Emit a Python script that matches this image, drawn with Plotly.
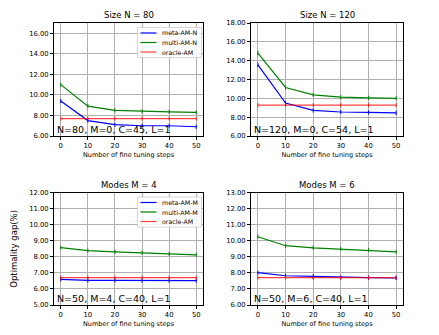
import plotly.graph_objects as go
from plotly.subplots import make_subplots

steps = [0, 10, 20, 30, 40, 50]

# Size N = 80
meta_n80 = [9.4, 7.5, 7.1, 7.0, 7.0, 6.9]
multi_n80 = [11.0, 8.9, 8.5, 8.4, 8.35, 8.3]
oracle_n80 = [7.7, 7.7, 7.7, 7.7, 7.7, 7.7]

# Size N = 120
meta_n120 = [13.55, 9.5, 8.72, 8.55, 8.5, 8.46]
multi_n120 = [14.8, 11.15, 10.37, 10.12, 10.05, 10.0]
oracle_n120 = [9.27, 9.27, 9.27, 9.27, 9.27, 9.27]

# Modes M = 4
meta_m4 = [6.6, 6.53, 6.53, 6.52, 6.52, 6.52]
multi_m4 = [8.57, 8.38, 8.3, 8.25, 8.18, 8.12]
oracle_m4 = [6.7, 6.7, 6.7, 6.7, 6.7, 6.7]

# Modes M = 6
meta_m6 = [8.01, 7.82, 7.78, 7.72, 7.7, 7.68]
multi_m6 = [10.25, 9.69, 9.56, 9.48, 9.42, 9.3]
oracle_m6 = [7.7, 7.7, 7.7, 7.7, 7.7, 7.7]

panels = [
    dict(title="Size N = 80", meta=meta_n80, multi=multi_n80, oracle=oracle_n80,
         names=["meta-AM-N", "multi-AM-N", "oracle-AM"], note="N=80, M=0, C=45, L=1",
         yr=[6, 17], dt=2, legend=True),
    dict(title="Size N = 120", meta=meta_n120, multi=multi_n120, oracle=oracle_n120,
         names=["meta-AM-N", "multi-AM-N", "oracle-AM"], note="N=120, M=0, C=54, L=1",
         yr=[6, 18], dt=2, legend=False),
    dict(title="Modes M = 4", meta=meta_m4, multi=multi_m4, oracle=oracle_m4,
         names=["meta-AM-M", "multi-AM-M", "oracle-AM"], note="N=50, M=4, C=40, L=1",
         yr=[5, 12], dt=1, legend=True),
    dict(title="Modes M = 6", meta=meta_m6, multi=multi_m6, oracle=oracle_m6,
         names=["meta-AM-M", "multi-AM-M", "oracle-AM"], note="N=50, M=6, C=40, L=1",
         yr=[6, 13], dt=1, legend=False),
]

W, H = 439, 335
OFF = 8  # page body margin pushes the figure 8px right/down


def px(x):
    return (x - OFF) / W


def py(y):
    return 1 - (y - OFF) / H


xdom = [(px(54), px(203)), (px(251), px(403))]
ydom = [(py(136), py(23)), (py(305), py(192.5))]

fig = make_subplots(rows=2, cols=2)
font = "DejaVu Sans"
colors = ["#0000ff", "#008000", "rgba(255,0,0,0.75)"]

for i, p in enumerate(panels):
    r, c = i // 2 + 1, i % 2 + 1
    for name, ys, col in zip(p["names"], [p["meta"], p["multi"], p["oracle"]], colors):
        fig.add_trace(go.Scatter(x=steps, y=ys, name=name, mode="lines+markers",
                                 line=dict(color=col, width=1.2),
                                 marker=dict(symbol="line-ns", size=3, color=col,
                                             line=dict(color=col, width=1)),
                                 showlegend=False), row=r, col=c)
    xd = xdom[c - 1]
    yd = ydom[r - 1]
    fig.update_xaxes(domain=list(xd), range=[-2.5, 52.5], tickvals=steps,
                     automargin=False,
                     showgrid=True, gridcolor="#b0b0b0", gridwidth=1,
                     showline=True, linecolor="black", linewidth=1, mirror=True,
                     ticks="outside", ticklen=3, tickcolor="black",
                     tickfont=dict(size=6.8, family=font, color="black"),
                     title=dict(text="Number of fine tuning steps", standoff=3,
                                font=dict(size=6.5, family=font, color="black")),
                     zeroline=False, row=r, col=c)
    fig.update_yaxes(domain=list(yd), range=p["yr"], dtick=p["dt"], tick0=0,
                     tickformat=".2f", automargin=False,
                     showgrid=True, gridcolor="#b0b0b0", gridwidth=1,
                     showline=True, linecolor="black", linewidth=1, mirror=True,
                     ticks="outside", ticklen=3, tickcolor="black",
                     tickfont=dict(size=6.8, family=font, color="black"),
                     zeroline=False, row=r, col=c)
    # title
    fig.add_annotation(x=(xd[0] + xd[1]) / 2, y=yd[1], xref="paper", yref="paper",
                       text=p["title"], showarrow=False, xanchor="center",
                       yanchor="bottom", yshift=1,
                       font=dict(size=8.5, family=font, color="black"))
    # bottom-left note
    fig.add_annotation(x=xd[0], y=yd[0], xref="paper", yref="paper",
                       text=p["note"], showarrow=False, xanchor="left", yanchor="bottom",
                       xshift=1, yshift=-1,
                       font=dict(size=9.5, family=font, color="black"))
    if p["legend"]:
        # legend box drawn inside this panel
        lx1 = xd[1] - 1.5 / W
        lx0 = lx1 - 64 / W
        ly1 = yd[1] - 4.5 / H
        ly0 = ly1 - 30 / H
        fig.add_shape(type="rect", xref="paper", yref="paper", x0=lx0, x1=lx1,
                      y0=ly0, y1=ly1, line=dict(color="#cccccc", width=0.8),
                      fillcolor="rgba(255,255,255,0.85)", layer="above")
        for k, (name, col) in enumerate(zip(p["names"], colors)):
            yy = ly1 - (5.5 + 9.5 * k) / H
            fig.add_shape(type="line", xref="paper", yref="paper",
                          x0=lx0 + 3 / W, x1=lx0 + 19 / W, y0=yy, y1=yy,
                          line=dict(color=col, width=1.2), layer="above")
            fig.add_annotation(x=lx0 + 22 / W, y=yy, xref="paper", yref="paper",
                               text=name, showarrow=False, xanchor="left",
                               yanchor="middle",
                               font=dict(size=6.3, family=font, color="black"))

fig.add_annotation(x=px(14), y=(ydom[1][0] + ydom[1][1]) / 2, xref="paper", yref="paper",
                   text="Optimality gap(%)", textangle=-90, showarrow=False,
                   xanchor="center", yanchor="middle",
                   font=dict(size=8.5, family=font, color="black"))

fig.update_layout(width=W, height=H, margin=dict(l=0, r=0, t=0, b=0),
                  paper_bgcolor="white", plot_bgcolor="white", showlegend=False)

fig.write_html("out.html")
